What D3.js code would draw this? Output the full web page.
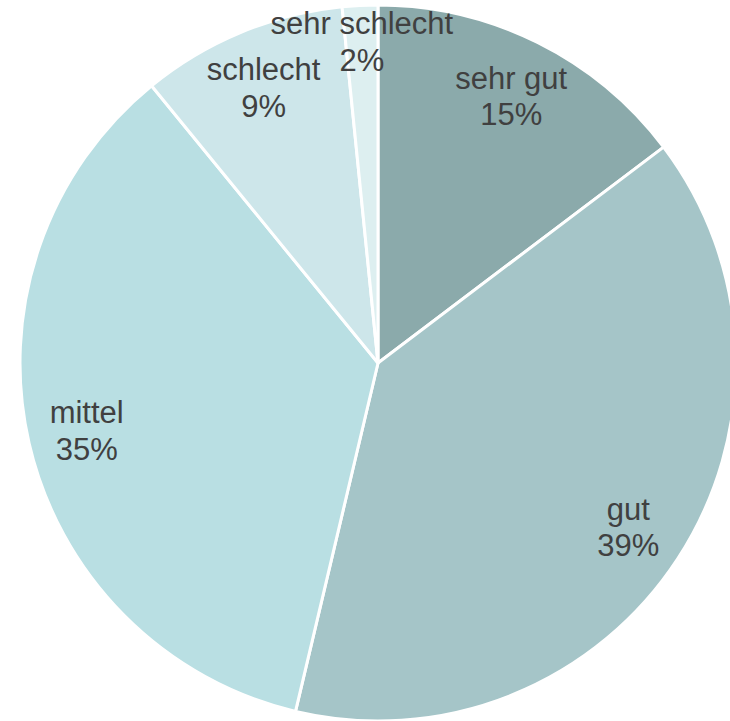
<!DOCTYPE html>
<html><head><meta charset="utf-8">
<script src="https://cdn.jsdelivr.net/npm/d3@7"></script>
<style>html,body{margin:0;padding:0;background:#fff;}svg{display:block;}</style>
</head><body>
<svg id="chart" width="730" height="721"></svg>
<script>
const categories = ["sehr gut", "gut", "mittel", "schlecht", "sehr schlecht"];
const values = [14.7, 39.0, 35.4, 9.3, 1.6];
const colors = ["#8BAAAB", "#A5C5C8", "#B9DFE3", "#CDE6EA", "#DDEFF0"];

const data = categories.map((c, i) => ({ name: c, value: values[i], color: colors[i] }));
const svg = d3.select("#chart");
const cx = 378, cy = 363, R = 358;
const g = svg.append("g").attr("transform", `translate(${cx},${cy})`);

const pie = d3.pie().value(d => d.value).sort(null);
const arcs = pie(data);
const arc = d3.arc().innerRadius(0).outerRadius(R);

g.selectAll("path").data(arcs).join("path")
  .attr("d", arc)
  .attr("fill", d => d.data.color)
  .attr("stroke", "#fff")
  .attr("stroke-width", 3)
  .attr("stroke-linejoin", "round");

const total = d3.sum(values);
const labelR = d => d.endAngle - d.startAngle < 0.2 ? 0.9 * R : 0.835 * R;
const lab = g.selectAll("text").data(arcs).join("text")
  .attr("transform", d => {
    const a = (d.startAngle + d.endAngle) / 2;
    const r = labelR(d);
    return `translate(${Math.sin(a) * r},${-Math.cos(a) * r})`;
  })
  .attr("text-anchor", "middle")
  .attr("font-family", "Liberation Sans, Arial, sans-serif")
  .attr("font-size", 31)
  .attr("fill", "#404040");
lab.append("tspan").attr("x", 0).attr("dy", "-0.22em").text(d => d.data.name);
lab.append("tspan").attr("x", 0).attr("dy", "1.18em").text(d => Math.round(d.data.value / total * 100) + "%");
</script>
</body></html>
